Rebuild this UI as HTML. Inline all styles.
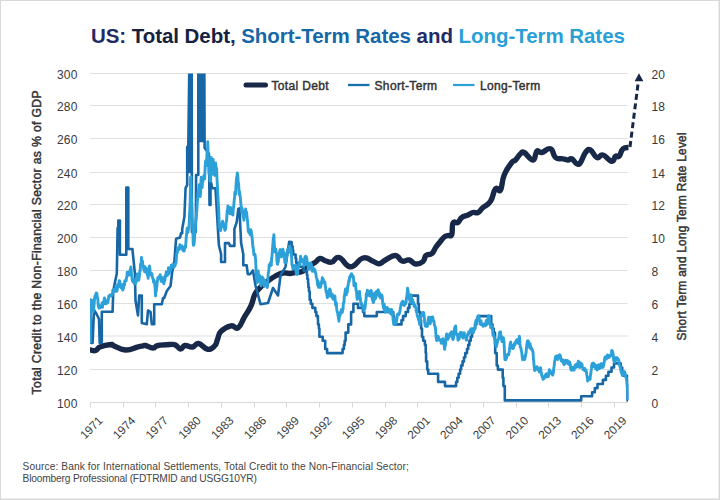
<!DOCTYPE html>
<html><head><meta charset="utf-8"><style>
html,body{margin:0;padding:0;background:#fff;}
body{width:720px;height:500px;overflow:hidden;position:relative;font-family:"Liberation Sans",sans-serif;}
.frame{position:absolute;left:0;top:0;width:718px;height:498px;border:1px solid #d9d9d9;box-shadow:inset -1px -1px 0 #ececec;}
svg{position:absolute;left:0;top:0;}
</style></head><body>
<div class="frame"></div>
<svg width="720" height="500" viewBox="0 0 720 500">
<defs><clipPath id="pc"><rect x="90" y="73.5" width="538.5" height="335"/></clipPath></defs>
<text x="357.9" y="43" text-anchor="middle" font-family="Liberation Sans" font-weight="bold" font-size="20.5" letter-spacing="-0.05"><tspan fill="#1f2b66">US: </tspan><tspan fill="#14223f">Total Debt</tspan><tspan fill="#1f2b66">, </tspan><tspan fill="#1567a8">Short-Term Rates</tspan><tspan fill="#1f2b66"> and </tspan><tspan fill="#2a9fd6">Long-Term Rates</tspan></text>
<g stroke="#dfdfdf" stroke-width="1" fill="none"><path d="M90 73.5 H627.5" /><path d="M90 105.5 H627.5" /><path d="M90 138.5 H627.5" /><path d="M90 172.5 H627.5" /><path d="M90 204.5 H627.5" /><path d="M90 237.5 H627.5" /><path d="M90 270.5 H627.5" /><path d="M90 303.5 H627.5" /><path d="M90 336.0 H627.5" /><path d="M90 369.5 H627.5" /></g>
<g stroke="#d8d8d8" stroke-width="1" fill="none"><path d="M90 402.5 H627.5" /><path d="M90.5 402.5 V407.5" /><path d="M123.5 402.5 V407.5" /><path d="M155.5 402.5 V407.5" /><path d="M188.5 402.5 V407.5" /><path d="M221.5 402.5 V407.5" /><path d="M254.5 402.5 V407.5" /><path d="M286.5 402.5 V407.5" /><path d="M319.5 402.5 V407.5" /><path d="M352.5 402.5 V407.5" /><path d="M385.5 402.5 V407.5" /><path d="M417.5 402.5 V407.5" /><path d="M450.5 402.5 V407.5" /><path d="M483.5 402.5 V407.5" /><path d="M516.5 402.5 V407.5" /><path d="M548.5 402.5 V407.5" /><path d="M581.5 402.5 V407.5" /><path d="M614.5 402.5 V407.5" /></g>
<g font-size="12" fill="#3a3a3a" text-anchor="end" letter-spacing="0.2"><text x="77.6" y="79.1">300</text><text x="77.6" y="111.1">280</text><text x="77.6" y="144.1">260</text><text x="77.6" y="178.1">240</text><text x="77.6" y="210.1">220</text><text x="77.6" y="243.1">200</text><text x="77.6" y="276.1">180</text><text x="77.6" y="309.1">160</text><text x="77.6" y="341.6">140</text><text x="77.6" y="375.1">120</text><text x="77.6" y="408.1">100</text></g>
<g font-size="12" fill="#3a3a3a" text-anchor="start" letter-spacing="0.2"><text x="651.5" y="79.1">20</text><text x="651.5" y="111.1">18</text><text x="651.5" y="144.1">16</text><text x="651.5" y="178.1">14</text><text x="651.5" y="210.1">12</text><text x="651.5" y="243.1">10</text><text x="651.5" y="276.1">8</text><text x="651.5" y="309.1">6</text><text x="651.5" y="341.6">4</text><text x="651.5" y="375.1">2</text><text x="651.5" y="408.1">0</text></g>
<g font-size="11.8" fill="#3a3a3a" text-anchor="end" letter-spacing="0"><text transform="translate(103.5 421.3) rotate(-45)">1971</text><text transform="translate(136.2 421.3) rotate(-45)">1974</text><text transform="translate(169.0 421.3) rotate(-45)">1977</text><text transform="translate(201.7 421.3) rotate(-45)">1980</text><text transform="translate(234.5 421.3) rotate(-45)">1983</text><text transform="translate(267.2 421.3) rotate(-45)">1986</text><text transform="translate(299.9 421.3) rotate(-45)">1989</text><text transform="translate(332.7 421.3) rotate(-45)">1992</text><text transform="translate(365.4 421.3) rotate(-45)">1995</text><text transform="translate(398.2 421.3) rotate(-45)">1998</text><text transform="translate(430.9 421.3) rotate(-45)">2001</text><text transform="translate(463.6 421.3) rotate(-45)">2004</text><text transform="translate(496.4 421.3) rotate(-45)">2007</text><text transform="translate(529.1 421.3) rotate(-45)">2010</text><text transform="translate(561.9 421.3) rotate(-45)">2013</text><text transform="translate(594.6 421.3) rotate(-45)">2016</text><text transform="translate(627.3 421.3) rotate(-45)">2019</text></g>
<text transform="translate(41 242.4) rotate(-90)" text-anchor="middle" font-size="12.2" fill="#333" stroke="#333" stroke-width="0.45" textLength="304" lengthAdjust="spacing">Total Credit to the Non-Financial Sector as % of GDP</text>
<text transform="translate(685.8 236.45) rotate(-90)" text-anchor="middle" font-size="11.9" fill="#333" stroke="#333" stroke-width="0.45" textLength="208" lengthAdjust="spacing">Short Term and Long Term Rate Level</text>
<g clip-path="url(#pc)" fill="none" stroke-linejoin="round">
<path d="M90.5 350.0 C91.7 350.1 93.2 351.3 95.5 350.5 C97.8 349.7 96.9 348.1 100.5 346.8 C104.1 345.4 108.1 344.8 111.0 344.5 C113.9 344.2 109.6 344.2 113.0 345.5 C116.4 346.8 119.7 349.7 125.5 350.0 C131.3 350.3 134.0 347.7 138.0 346.8 C142.0 345.8 140.8 346.3 142.5 346.0 C144.2 345.7 143.1 345.0 145.5 345.5 C147.9 346.0 150.1 348.0 153.0 348.0 C155.9 348.0 154.0 346.3 158.0 345.5 C162.0 344.7 165.9 344.6 170.0 344.5 C174.1 344.4 173.1 343.9 175.5 345.0 C177.9 346.1 178.3 348.9 180.5 349.0 C182.7 349.1 182.2 346.0 185.0 345.5 C187.8 345.0 189.3 347.5 192.5 347.0 C195.7 346.5 195.0 343.0 198.5 343.5 C202.0 344.0 203.8 348.8 207.6 349.3 C211.4 349.8 212.5 348.0 214.8 345.7 C217.1 343.4 216.0 342.8 217.5 339.4 C219.0 336.0 217.9 334.4 221.1 331.3 C224.2 328.2 227.0 326.7 231.0 325.9 C235.0 325.1 235.0 329.8 238.2 327.7 C241.3 325.6 241.5 321.9 244.5 316.8 C247.5 311.7 248.6 311.0 250.9 306.0 C253.2 301.0 252.8 299.0 254.5 295.2 C256.2 291.4 256.0 292.3 258.1 289.8 C260.2 287.3 261.2 286.5 263.5 284.4 C265.8 282.3 265.2 283.0 268.0 281.0 C270.8 279.0 272.0 277.9 275.5 276.0 C279.0 274.1 279.6 273.6 283.0 273.0 C286.4 272.4 287.2 273.6 290.0 273.5 C292.8 273.4 292.2 273.0 295.0 272.5 C297.8 272.0 298.7 273.0 302.0 271.5 C305.3 270.0 306.0 268.1 309.0 266.0 C312.0 263.9 312.4 264.2 315.0 262.5 C317.6 260.8 317.4 258.9 320.0 258.5 C322.6 258.1 323.2 260.2 326.0 261.0 C328.8 261.8 328.9 262.8 332.0 262.0 C335.1 261.2 334.9 256.4 339.2 257.5 C343.6 258.6 345.0 266.6 350.5 266.8 C356.0 266.9 357.8 259.3 363.0 258.0 C368.2 256.7 369.2 259.9 373.0 261.2 C376.8 262.6 376.3 264.0 379.2 263.8 C382.2 263.5 381.7 261.9 385.5 260.0 C389.3 258.1 391.6 255.3 395.5 255.5 C399.4 255.7 398.8 259.9 402.0 261.0 C405.2 262.1 406.1 259.3 409.2 260.0 C412.4 260.7 412.3 263.6 415.5 264.0 C418.7 264.4 420.6 263.5 423.0 261.5 C425.4 259.5 423.9 257.4 426.0 255.5 C428.1 253.6 429.7 255.5 432.0 253.5 C434.3 251.5 434.1 249.7 436.0 247.0 C437.9 244.3 438.1 244.3 440.0 242.0 C441.9 239.7 442.4 238.5 444.2 237.0 C446.1 235.5 446.2 236.1 448.0 235.5 C449.8 234.9 450.6 237.4 451.8 234.5 C452.9 231.6 451.5 225.8 453.0 223.0 C454.5 220.2 456.0 223.8 458.0 222.5 C460.0 221.2 459.4 219.2 461.8 217.5 C464.1 215.8 465.4 216.2 468.0 215.0 C470.6 213.8 470.7 213.1 473.0 212.5 C475.3 211.9 475.7 213.7 478.0 212.5 C480.3 211.3 480.1 210.1 483.0 207.5 C485.9 204.9 487.6 205.6 490.5 201.2 C493.4 196.9 493.2 191.4 495.5 188.8 C497.8 186.1 498.5 193.2 500.5 190.0 C502.5 186.8 501.6 181.4 504.2 175.0 C506.9 168.6 509.1 166.0 511.8 162.5 C514.4 159.0 513.5 162.0 515.5 160.0 C517.5 158.0 518.5 155.5 520.5 153.8 C522.5 152.0 521.3 151.0 524.2 152.5 C527.2 154.0 530.1 160.3 533.0 160.0 C535.9 159.7 534.7 153.0 536.8 151.2 C538.8 149.5 538.5 153.1 541.8 152.5 C545.0 151.9 547.3 147.6 550.5 148.8 C553.7 149.9 552.6 155.2 555.5 157.5 C558.4 159.8 560.1 158.2 563.0 158.8 C565.9 159.3 566.0 160.0 568.0 160.0 C570.0 160.0 569.7 157.9 571.8 158.8 C573.8 159.6 574.7 162.9 576.8 163.8 C578.8 164.6 578.5 165.1 580.5 162.5 C582.5 159.9 583.2 155.4 585.5 152.5 C587.8 149.6 587.9 148.8 590.5 150.0 C593.1 151.2 593.8 156.3 596.8 157.5 C599.7 158.7 599.5 154.1 603.0 155.0 C606.5 155.9 608.8 161.0 611.8 161.2 C614.7 161.5 613.8 157.4 615.5 156.2 C617.2 155.1 617.5 158.0 619.2 156.2 C621.0 154.5 620.5 150.8 623.0 148.8 C625.5 146.7 628.4 147.8 630.0 147.5" stroke="#172848" stroke-width="5.4" stroke-linecap="round"/>
<path d="M90.5 300.0 L91.3 343.0 L92.6 343.0 L94.0 310.0 L96.5 314.0 L99.0 319.0 L99.7 343.0 L101.8 343.0 L101.8 311.8 L112.6 311.8 L113.2 293.0 L114.2 286.0 L116.8 273.5 L117.6 228.0 L118.3 228.0 L118.3 220.6 L119.9 220.6 L119.9 254.8 L126.3 254.8 L126.3 187.5 L128.3 187.5 L128.3 249.0 L132.4 249.0 L134.9 273.5 L135.5 300.5 L138.0 315.5 L139.2 295.5 L141.8 295.5 L141.8 323.0 L146.8 324.2 L148.0 310.5 L150.5 311.8 L151.8 324.2 L154.2 324.2 L154.2 304.2 L161.8 304.2 L163.0 298.0 L164.2 298.0 L166.8 291.0 L170.5 286.0 L172.2 272.0 L174.4 260.9 L176.1 238.7 L180.0 237.6 L181.1 233.1 L182.2 233.3 L182.2 228.9 L184.4 216.7 L185.6 187.8 L187.2 185.0 L187.2 146.7 L187.2 185.0 L187.2 146.7 L188.3 146.7 L189.4 60.0 L189.4 172.0 L190.0 172.0 L190.0 60.0 L190.6 60.0 L190.6 172.0 L191.1 172.0 L191.1 60.0 L191.7 60.0 L191.7 172.0 L191.7 60.0 L191.9 232.0 L195.8 232.0 L196.1 175.0 L198.3 175.0 L198.3 141.0 L198.3 60.0 L198.9 60.0 L198.9 141.0 L199.6 141.0 L199.6 60.0 L200.2 60.0 L200.2 141.0 L200.8 141.0 L200.8 60.0 L201.3 60.0 L201.3 141.0 L201.9 141.0 L201.9 60.0 L202.6 60.0 L202.6 141.0 L203.2 141.0 L203.2 60.0 L203.8 60.0 L203.8 141.0 L204.3 141.0 L204.3 60.0 L204.3 60.0 L204.6 147.8 L209.0 153.9 L209.5 205.0 L210.5 205.0 L210.5 180.0 L212.2 188.3 L215.5 188.3 L218.9 245.3 L221.1 254.2 L221.1 262.0 L225.0 262.0 L225.0 243.1 L228.9 243.1 L230.0 245.9 L234.4 245.9 L234.4 228.9 L236.7 222.2 L238.3 208.9 L239.4 208.3 L240.6 232.0 L241.1 243.1 L243.3 254.2 L243.3 265.3 L246.7 265.3 L247.8 274.2 L250.0 274.2 L253.0 270.5 L255.5 285.5 L260.5 304.2 L268.0 303.0 L273.0 288.0 L278.0 295.5 L280.5 275.5 L285.5 266.8 L289.2 241.8 L291.6 242.1 L291.6 246.2 L292.6 246.2 L292.6 250.3 L293.2 250.3 L293.2 254.5 L295.6 254.5 L295.6 258.6 L296.2 258.6 L296.2 262.7 L297.5 262.7 L297.5 266.8 L303.7 266.8 L303.7 270.9 L306.9 270.9 L306.9 275.0 L307.4 275.0 L307.4 279.1 L308.1 279.1 L308.1 283.2 L308.4 283.2 L308.4 287.4 L309.0 287.4 L309.0 291.5 L309.7 291.5 L309.7 299.7 L310.8 299.7 L310.8 303.8 L312.4 303.8 L312.4 307.9 L315.3 307.9 L315.3 312.0 L316.4 312.0 L316.4 316.1 L317.9 316.1 L317.9 320.2 L318.0 320.2 L318.0 324.4 L318.9 324.4 L318.9 328.5 L319.4 328.5 L319.4 336.7 L322.7 336.7 L322.7 340.8 L325.2 340.8 L325.2 349.0 L327.1 349.0 L327.1 353.1 L342.6 353.1 L342.6 349.0 L343.9 349.0 L343.9 344.9 L344.7 344.9 L344.7 340.8 L345.6 340.8 L345.6 332.6 L348.3 332.6 L348.3 324.4 L351.1 324.4 L351.1 312.0 L353.4 312.0 L353.4 303.8 L358.0 303.8 L358.0 307.9 L363.0 307.9 L363.0 312.0 L364.3 312.0 L364.3 316.1 L376.8 316.1 L376.8 312.0 L393.3 312.0 L393.3 316.1 L393.8 316.1 L393.8 320.2 L394.8 320.2 L394.8 324.4 L401.5 324.4 L401.5 320.2 L403.1 320.2 L403.1 316.1 L405.7 316.1 L405.7 312.0 L408.0 312.0 L408.0 307.9 L409.4 307.9 L409.4 303.8 L411.1 303.8 L411.1 295.6 L418.0 295.6 L418.0 303.8 L418.8 303.8 L418.8 312.0 L420.3 312.0 L420.3 320.2 L421.1 320.2 L421.1 328.5 L422.0 328.5 L422.0 336.7 L423.2 336.7 L423.2 340.8 L424.9 340.8 L424.9 344.9 L425.7 344.9 L425.7 353.1 L426.1 353.1 L426.1 361.4 L427.2 361.4 L427.2 369.6 L428.2 369.6 L428.2 373.7 L438.1 373.7 L438.1 381.9 L445.0 381.9 L445.0 386.1 L456.1 386.1 L456.1 381.9 L457.3 381.9 L457.3 377.8 L458.6 377.8 L458.6 373.7 L460.1 373.7 L460.1 369.6 L461.1 369.6 L461.1 365.5 L462.6 365.5 L462.6 361.4 L464.0 361.4 L464.0 357.3 L465.3 357.3 L465.3 353.1 L467.0 353.1 L467.0 349.0 L468.2 349.0 L468.2 344.9 L469.4 344.9 L469.4 340.8 L470.7 340.8 L470.7 336.7 L472.0 336.7 L472.0 332.6 L473.4 332.6 L473.4 328.5 L475.1 328.5 L475.1 324.4 L476.4 324.4 L476.4 320.2 L477.9 320.2 L477.9 316.1 L491.2 316.1 L491.2 324.4 L492.5 324.4 L492.5 328.5 L493.7 328.5 L493.7 332.6 L495.0 332.6 L495.0 344.9 L495.2 344.9 L495.2 353.1 L496.7 353.1 L496.7 365.5 L497.9 365.5 L497.9 369.6 L502.7 369.6 L502.7 377.8 L503.4 377.8 L503.4 386.1 L504.8 386.1 L504.8 400.4 L581.2 400.4 L581.2 396.3 L592.1 396.3 L592.1 392.2 L594.8 392.2 L594.8 388.1 L597.5 388.1 L597.5 384.0 L602.9 384.0 L602.9 379.9 L605.9 379.9 L605.9 375.8 L608.4 375.8 L608.4 371.7 L611.5 371.7 L611.5 367.5 L614.0 367.5 L614.0 363.4 L620.7 363.4 L620.7 367.5 L622.2 367.5 L622.2 371.7 L623.5 371.7 L623.5 375.8 L627.2 375.8 L627.2 384.0 L627.5 384.0 L627.5 400.4 L628.0 400.4" stroke="#1766a5" stroke-width="2.6"/>
<path d="M90.3 343.0 L90.5 299.7 L90.8 300.8 L91.2 302.3 L91.5 300.8 L91.8 300.3 L92.2 302.4 L92.5 306.7 L92.8 308.1 L93.2 311.7 L93.5 310.6 L93.8 307.4 L94.2 303.6 L94.5 298.6 L94.8 296.6 L95.2 295.4 L95.5 297.3 L95.8 295.7 L96.2 293.0 L96.5 294.1 L96.8 293.4 L97.2 296.1 L97.5 298.7 L97.8 298.4 L98.2 305.1 L98.5 306.7 L98.8 306.1 L99.2 308.1 L99.5 307.3 L99.8 306.3 L100.2 307.9 L100.5 305.7 L100.8 306.3 L101.2 306.6 L101.5 306.0 L101.8 305.8 L102.2 302.6 L102.5 307.4 L102.8 304.3 L103.2 304.1 L103.5 303.1 L103.8 302.1 L104.2 299.1 L104.5 298.0 L104.8 299.8 L105.2 299.6 L105.5 303.9 L105.8 303.8 L106.2 301.4 L106.5 302.6 L106.8 303.3 L107.2 301.9 L107.5 300.9 L107.8 302.6 L108.2 300.0 L108.5 298.6 L108.8 295.8 L109.2 295.7 L109.5 296.4 L109.8 295.5 L110.2 294.8 L110.5 295.7 L110.8 295.3 L111.2 296.0 L111.5 295.3 L111.8 295.7 L112.2 294.8 L112.5 293.0 L112.8 290.2 L113.2 291.1 L113.5 289.4 L113.8 290.1 L114.2 290.4 L114.5 289.4 L114.8 289.3 L115.2 290.1 L115.5 291.4 L115.8 286.3 L116.2 287.1 L116.5 287.0 L116.8 291.4 L117.2 290.1 L117.5 287.2 L117.8 284.1 L118.2 287.2 L118.5 284.9 L118.8 284.9 L119.2 280.7 L119.5 281.9 L119.8 281.1 L120.2 284.5 L120.5 285.5 L120.8 286.4 L121.2 288.0 L121.5 285.8 L121.8 285.0 L122.2 284.8 L122.5 285.4 L122.8 290.1 L123.2 287.6 L123.5 288.5 L123.8 283.9 L124.2 284.1 L124.5 285.1 L124.8 280.8 L125.2 281.2 L125.5 280.4 L125.8 280.3 L126.2 280.7 L126.5 277.7 L126.9 276.7 L127.2 272.3 L127.5 272.4 L127.9 273.3 L128.2 274.9 L128.5 272.4 L128.9 275.0 L129.2 275.0 L129.5 274.4 L129.9 271.3 L130.2 269.6 L130.5 269.9 L130.9 266.9 L131.2 269.5 L131.5 275.3 L131.9 276.4 L132.2 280.0 L132.5 280.7 L132.9 281.9 L133.2 280.1 L133.5 279.5 L133.9 282.6 L134.2 280.4 L134.5 283.9 L134.9 280.8 L135.2 281.1 L135.5 283.4 L135.9 282.9 L136.2 279.0 L136.5 278.0 L136.9 276.3 L137.2 274.0 L137.5 275.9 L137.9 279.1 L138.2 276.1 L138.5 280.4 L138.9 279.5 L139.2 277.1 L139.5 274.7 L139.9 270.6 L140.2 271.3 L140.5 264.3 L140.9 264.8 L141.2 262.4 L141.5 257.5 L141.9 261.2 L142.2 261.0 L142.5 261.4 L142.9 266.1 L143.2 265.6 L143.5 267.7 L143.9 270.1 L144.2 268.7 L144.5 271.5 L144.9 266.6 L145.2 271.8 L145.5 269.9 L145.9 267.8 L146.2 268.4 L146.5 271.4 L146.9 273.4 L147.2 269.5 L147.5 275.4 L147.9 275.3 L148.2 278.3 L148.5 271.7 L148.9 274.4 L149.2 267.7 L149.5 266.0 L149.9 268.9 L150.2 274.0 L150.5 272.9 L150.9 274.9 L151.2 273.8 L151.5 273.3 L151.9 273.7 L152.2 276.3 L152.5 277.5 L152.9 278.5 L153.2 279.4 L153.5 282.1 L153.9 279.9 L154.2 281.3 L154.5 282.2 L154.9 286.1 L155.2 289.0 L155.5 296.0 L156.0 287.4 L156.2 291.6 L156.5 288.3 L156.9 286.2 L157.2 281.8 L157.5 281.1 L157.9 277.7 L158.2 278.1 L158.5 277.2 L158.9 278.2 L159.2 278.2 L159.5 276.5 L159.9 277.2 L160.2 274.7 L160.5 278.4 L160.9 279.3 L161.2 281.4 L161.5 279.8 L161.9 279.6 L162.2 277.8 L162.5 278.0 L162.9 277.8 L163.2 281.4 L163.5 282.7 L163.9 283.7 L164.2 280.9 L164.5 279.4 L164.9 280.6 L165.2 275.4 L165.5 275.2 L165.9 276.3 L166.2 272.0 L166.5 275.4 L166.9 274.7 L167.2 275.2 L167.5 275.3 L167.9 272.7 L168.2 270.6 L168.5 267.6 L168.9 271.5 L169.2 273.5 L169.5 271.5 L169.9 271.5 L170.2 270.8 L170.5 269.8 L170.9 268.8 L171.2 265.3 L171.5 265.8 L171.9 267.5 L172.2 264.8 L172.5 265.6 L172.9 265.8 L173.2 265.8 L173.5 265.0 L173.9 267.1 L174.2 266.1 L174.5 264.2 L174.9 266.1 L175.2 264.5 L175.5 264.0 L175.9 263.0 L176.2 261.2 L176.5 256.0 L176.9 252.8 L177.2 253.0 L177.5 251.1 L177.9 247.6 L178.2 248.1 L178.5 247.6 L178.9 248.6 L179.2 249.5 L179.5 248.0 L179.9 244.8 L180.2 248.0 L180.5 246.4 L180.9 247.9 L181.2 246.5 L181.5 246.7 L181.9 245.8 L182.2 248.3 L182.5 249.1 L182.9 250.3 L183.2 250.7 L183.5 249.7 L183.9 250.3 L184.2 251.0 L184.5 247.6 L184.9 246.4 L185.2 246.8 L185.5 247.4 L185.9 242.6 L186.2 237.8 L186.5 236.1 L186.9 230.4 L187.2 228.3 L187.5 229.3 L187.9 232.4 L188.2 230.6 L188.5 228.7 L188.9 228.3 L189.2 223.6 L189.5 214.8 L189.9 207.8 L190.2 201.0 L190.6 177.1 L190.9 176.9 L191.2 194.5 L191.5 199.8 L191.9 208.4 L192.2 216.2 L192.5 225.3 L192.9 231.7 L193.2 243.2 L193.5 245.3 L193.9 244.7 L194.2 243.0 L194.5 237.8 L194.9 232.2 L195.2 230.9 L195.5 224.7 L195.9 219.3 L196.2 219.3 L196.5 213.1 L196.9 210.5 L197.2 203.4 L197.5 200.0 L197.9 193.9 L198.2 191.6 L198.5 194.1 L198.9 187.4 L199.2 184.7 L199.6 193.4 L199.9 191.0 L200.2 196.6 L200.6 193.1 L200.9 183.2 L201.2 177.3 L201.6 186.7 L201.9 182.7 L202.2 187.5 L202.6 179.7 L202.9 181.9 L203.2 179.1 L203.6 177.5 L203.9 175.4 L204.2 177.0 L204.6 178.9 L204.9 173.1 L205.2 166.1 L205.6 161.0 L205.9 163.2 L206.2 160.4 L206.6 165.6 L206.9 154.5 L207.2 149.7 L207.6 150.3 L207.7 141.8 L208.2 156.8 L208.6 162.3 L208.9 171.8 L209.2 174.2 L209.6 174.2 L209.9 181.0 L210.2 175.2 L210.6 181.4 L210.9 166.2 L211.2 157.5 L211.6 163.5 L211.9 160.9 L212.2 162.7 L212.6 174.0 L212.9 167.6 L213.2 159.4 L213.6 166.5 L213.9 171.4 L214.2 172.3 L214.6 175.4 L214.9 171.9 L215.2 168.8 L215.6 162.9 L215.9 165.6 L216.2 172.0 L216.6 168.3 L216.9 176.7 L217.2 182.6 L217.6 189.3 L217.9 196.2 L218.2 202.7 L218.6 207.9 L218.9 215.2 L219.2 227.4 L219.6 227.1 L219.9 229.5 L220.2 228.5 L220.6 230.5 L220.9 226.5 L221.2 225.2 L221.6 225.3 L221.9 224.8 L222.2 222.1 L222.6 221.2 L222.9 222.6 L223.2 224.3 L223.6 226.7 L223.9 227.0 L224.2 228.3 L224.6 228.4 L224.9 230.3 L225.2 227.3 L225.6 229.2 L225.9 224.8 L226.2 221.9 L226.6 220.8 L226.9 215.4 L227.2 210.7 L227.6 211.0 L227.9 205.9 L228.2 208.2 L228.6 210.0 L228.9 209.9 L229.2 210.6 L229.6 212.6 L229.9 213.7 L230.2 211.9 L230.6 207.5 L230.9 211.0 L231.2 211.7 L231.6 214.1 L231.9 213.3 L232.2 210.9 L232.6 214.5 L232.9 215.0 L233.2 209.6 L233.6 207.3 L233.9 204.0 L234.2 200.1 L234.6 196.9 L234.9 192.2 L235.2 192.6 L235.6 194.3 L235.9 187.2 L236.2 182.4 L236.6 177.3 L236.9 177.7 L237.3 173.0 L237.6 174.7 L237.9 177.0 L238.2 182.2 L238.6 183.4 L238.9 188.7 L239.2 194.4 L239.6 191.8 L239.9 195.7 L240.2 196.3 L240.6 200.6 L240.9 204.1 L241.2 206.8 L241.6 207.4 L241.9 212.6 L242.2 208.6 L242.6 211.5 L242.9 214.8 L243.2 217.4 L243.6 215.4 L243.9 220.2 L244.2 213.8 L244.6 214.2 L244.9 211.7 L245.2 214.8 L245.6 209.0 L245.9 213.6 L246.2 212.0 L246.6 212.1 L246.9 215.5 L247.2 218.6 L247.6 221.5 L247.9 225.7 L248.2 230.6 L248.6 232.0 L248.9 232.7 L249.2 229.9 L249.6 233.0 L249.9 231.2 L250.2 234.9 L250.6 229.6 L250.9 230.4 L251.2 230.8 L251.6 234.0 L251.9 235.6 L252.2 238.5 L252.6 243.0 L252.9 247.2 L253.2 247.4 L253.6 251.6 L253.9 254.9 L254.2 253.8 L254.6 254.6 L254.9 254.3 L255.2 255.8 L255.6 259.8 L255.9 265.9 L256.2 273.1 L256.6 276.6 L256.9 280.7 L257.2 282.6 L257.6 282.1 L257.9 279.3 L258.2 270.9 L258.6 276.7 L258.9 275.6 L259.2 276.4 L259.6 275.4 L259.9 279.6 L260.2 281.1 L260.6 281.9 L260.9 285.7 L261.2 283.7 L261.6 284.0 L261.9 280.9 L262.2 277.0 L262.6 282.6 L262.9 278.0 L263.2 278.6 L263.6 282.4 L263.9 282.5 L264.2 286.3 L264.6 280.5 L264.9 284.9 L265.2 285.0 L265.6 282.9 L265.9 282.5 L266.2 283.6 L266.6 283.4 L266.9 283.3 L267.2 287.6 L267.6 285.4 L267.9 279.5 L268.2 273.5 L268.6 271.5 L268.9 270.3 L269.2 264.7 L269.6 266.3 L269.9 265.3 L270.2 264.1 L270.6 262.6 L270.9 265.0 L271.3 265.3 L271.6 257.9 L271.9 257.4 L272.3 251.7 L272.6 248.4 L272.9 244.0 L273.3 238.2 L273.6 236.7 L273.9 234.7 L274.3 244.3 L274.6 249.1 L274.9 251.6 L275.3 252.2 L275.6 249.0 L275.9 250.1 L276.3 252.5 L276.6 253.2 L276.9 260.5 L277.3 263.9 L277.6 264.2 L277.9 260.6 L278.3 262.2 L278.6 256.2 L278.9 256.3 L279.3 255.1 L279.6 251.7 L279.9 250.2 L280.3 249.6 L280.6 255.7 L280.9 255.9 L281.3 257.0 L281.6 256.4 L281.9 252.8 L282.3 252.2 L282.6 250.8 L282.9 249.2 L283.3 254.6 L283.6 254.7 L283.9 254.8 L284.3 252.7 L284.6 259.3 L284.9 262.5 L285.3 261.1 L285.6 262.9 L285.9 260.8 L286.3 261.2 L286.6 257.0 L286.9 253.6 L287.3 254.2 L287.6 249.5 L287.9 250.8 L288.3 250.5 L288.6 252.0 L288.9 252.0 L289.3 246.5 L289.6 248.8 L289.9 252.1 L290.3 247.5 L290.6 249.0 L290.9 249.2 L291.3 252.9 L291.6 257.5 L291.9 263.7 L292.3 266.1 L292.6 266.5 L292.9 269.1 L293.3 267.7 L293.6 267.1 L293.9 265.8 L294.3 267.4 L294.6 266.2 L294.9 266.7 L295.3 265.3 L295.6 268.9 L295.9 270.6 L296.3 273.9 L296.6 274.2 L296.9 274.1 L297.3 272.6 L297.6 274.3 L297.9 267.5 L298.3 268.3 L298.6 264.7 L298.9 264.4 L299.3 262.0 L299.6 263.1 L299.9 264.8 L300.3 259.7 L300.6 256.1 L300.9 259.0 L301.3 258.7 L301.6 258.8 L301.9 259.2 L302.3 260.2 L302.6 260.5 L302.9 262.1 L303.3 262.4 L303.6 262.5 L303.9 265.9 L304.3 265.0 L304.6 261.4 L304.9 257.2 L305.3 260.9 L305.6 256.3 L305.9 259.3 L306.3 256.7 L306.6 258.6 L306.9 258.9 L307.3 264.9 L307.6 263.9 L307.9 265.4 L308.3 269.4 L308.6 269.5 L308.9 267.8 L309.3 263.1 L309.6 265.0 L309.9 265.4 L310.3 268.0 L310.6 264.0 L310.9 263.4 L311.3 264.4 L311.6 266.7 L311.9 270.3 L312.3 271.2 L312.6 267.7 L312.9 269.7 L313.3 268.6 L313.6 269.8 L313.9 268.6 L314.3 271.4 L314.6 270.2 L314.9 269.6 L315.3 272.5 L315.6 273.0 L315.9 273.8 L316.3 277.0 L316.6 278.1 L316.9 279.0 L317.3 281.8 L317.6 285.1 L317.9 280.8 L318.3 283.2 L318.6 287.4 L318.9 286.6 L319.3 285.6 L319.6 286.1 L319.9 283.8 L320.3 287.2 L320.6 287.0 L320.9 284.9 L321.3 283.8 L321.6 281.3 L321.9 282.1 L322.3 277.6 L322.6 279.9 L322.9 279.6 L323.3 279.4 L323.6 281.4 L323.9 282.6 L324.3 281.7 L324.6 282.8 L324.9 282.0 L325.3 286.8 L325.6 286.9 L325.9 290.5 L326.3 292.6 L326.6 291.2 L326.9 294.9 L327.3 297.5 L327.6 296.9 L327.9 296.8 L328.3 295.6 L328.6 293.2 L328.9 291.1 L329.3 290.5 L329.6 288.9 L329.9 289.2 L330.3 290.2 L330.6 293.5 L330.9 296.4 L331.3 295.3 L331.6 293.6 L331.9 295.7 L332.3 294.1 L332.6 298.2 L332.9 296.8 L333.3 299.2 L333.6 298.5 L333.9 297.6 L334.3 299.5 L334.6 299.0 L334.9 295.9 L335.3 301.8 L335.6 304.8 L335.9 305.3 L336.3 302.7 L336.6 307.7 L336.9 309.9 L337.3 312.2 L337.6 312.3 L337.9 314.7 L338.3 316.9 L338.6 318.6 L338.9 321.2 L339.3 317.4 L339.6 316.2 L339.9 316.3 L340.3 312.7 L340.6 312.0 L340.9 313.3 L341.3 309.6 L341.6 312.9 L341.9 310.1 L342.3 312.3 L342.6 310.0 L343.0 309.4 L343.3 304.3 L343.6 302.4 L344.0 302.1 L344.3 296.5 L344.6 294.9 L345.0 292.9 L345.3 290.4 L345.6 288.9 L346.0 292.7 L346.3 294.9 L346.6 292.2 L347.0 290.0 L347.3 292.2 L347.6 286.7 L348.0 286.3 L348.3 284.0 L348.6 282.3 L349.0 279.9 L349.3 281.1 L349.6 276.9 L350.0 277.3 L350.3 276.7 L350.6 275.1 L351.0 274.8 L351.3 273.9 L351.6 273.7 L352.0 276.5 L352.3 276.1 L352.6 275.8 L353.0 275.9 L353.3 276.8 L353.6 279.2 L354.0 285.7 L354.3 282.8 L354.6 283.8 L355.0 285.5 L355.3 284.4 L355.6 283.4 L356.0 290.5 L356.3 290.3 L356.6 293.3 L357.0 297.5 L357.3 299.4 L357.6 298.6 L358.0 293.9 L358.3 292.2 L358.6 292.7 L359.0 293.2 L359.3 292.6 L359.6 291.5 L360.0 297.0 L360.3 297.8 L360.6 301.4 L361.0 304.0 L361.3 302.7 L361.6 305.7 L362.0 304.0 L362.3 305.6 L362.6 306.1 L363.0 305.8 L363.3 308.3 L363.6 309.1 L364.0 311.0 L364.3 307.5 L364.6 308.0 L365.0 308.3 L365.3 305.2 L365.6 301.3 L366.0 300.4 L366.3 293.9 L366.6 296.2 L367.0 292.9 L367.3 290.3 L367.6 290.6 L368.0 291.0 L368.3 291.1 L368.6 295.3 L369.0 294.0 L369.3 291.8 L369.6 293.9 L370.0 296.1 L370.3 291.5 L370.6 291.8 L371.0 290.4 L371.3 290.6 L371.6 294.5 L372.0 294.4 L372.3 299.6 L372.6 298.4 L373.0 300.9 L373.3 302.5 L373.6 301.5 L374.0 298.7 L374.3 299.0 L374.6 293.0 L375.0 294.7 L375.3 298.7 L375.6 297.9 L376.0 297.3 L376.3 294.6 L376.6 291.2 L377.0 291.5 L377.3 291.8 L377.6 291.5 L378.0 291.2 L378.3 289.8 L378.6 292.4 L379.0 294.9 L379.3 296.1 L379.6 292.9 L380.0 295.5 L380.3 297.6 L380.6 297.9 L381.0 295.1 L381.3 296.1 L381.6 294.9 L382.0 295.5 L382.3 297.1 L382.6 302.2 L383.0 305.2 L383.3 306.2 L383.6 308.3 L384.0 304.0 L384.3 305.0 L384.6 310.6 L385.0 311.1 L385.3 312.2 L385.6 310.2 L386.0 309.5 L386.3 308.9 L386.6 308.6 L387.0 307.4 L387.3 308.1 L387.6 311.3 L388.0 308.4 L388.3 310.9 L388.6 310.0 L389.0 312.0 L389.3 309.5 L389.6 310.4 L390.0 312.4 L390.3 312.5 L390.6 313.3 L391.0 314.1 L391.3 310.5 L391.6 309.4 L392.0 312.1 L392.3 312.4 L392.6 313.5 L393.0 318.6 L393.3 321.0 L393.6 323.8 L394.0 324.6 L394.3 322.5 L394.6 322.8 L395.0 319.1 L395.3 321.3 L395.6 322.6 L396.0 323.3 L396.3 321.0 L396.6 321.1 L397.0 317.1 L397.3 314.4 L397.6 315.3 L398.0 315.0 L398.3 313.6 L398.6 314.9 L399.0 314.4 L399.3 313.7 L399.6 312.2 L400.0 311.2 L400.3 308.3 L400.6 306.8 L401.0 304.1 L401.3 304.1 L401.6 302.7 L402.0 304.2 L402.3 304.5 L402.6 301.3 L403.0 303.2 L403.3 302.3 L403.6 304.9 L404.0 303.4 L404.3 305.6 L404.6 303.8 L405.0 302.0 L405.3 304.0 L405.6 303.8 L406.0 302.5 L406.3 300.3 L406.6 297.5 L407.0 294.7 L407.3 291.9 L407.6 288.2 L408.0 291.3 L408.3 293.3 L408.6 294.0 L409.0 297.1 L409.3 296.6 L409.6 300.2 L410.0 300.0 L410.3 302.5 L410.6 297.5 L411.0 294.6 L411.3 296.5 L411.6 299.0 L412.0 300.3 L412.3 300.3 L412.6 299.5 L413.0 301.2 L413.3 303.8 L413.6 302.7 L414.0 306.1 L414.3 306.5 L414.6 306.1 L415.0 304.8 L415.3 307.1 L415.7 307.3 L416.0 308.2 L416.3 311.8 L416.7 309.1 L417.0 313.4 L417.3 316.1 L417.7 316.4 L418.0 317.6 L418.3 318.3 L418.7 320.3 L419.0 318.7 L419.3 322.0 L419.7 324.6 L420.0 324.2 L420.3 321.1 L420.7 317.7 L421.0 315.1 L421.3 316.3 L421.7 314.9 L422.0 314.4 L422.3 314.3 L422.7 313.1 L423.0 312.6 L423.3 313.6 L423.7 312.6 L424.0 314.9 L424.3 317.4 L424.7 322.0 L425.0 323.9 L425.3 326.1 L425.7 326.2 L426.0 326.2 L426.3 326.1 L426.7 326.4 L427.0 325.0 L427.3 326.4 L427.7 324.0 L428.0 321.2 L428.3 319.0 L428.7 317.2 L429.0 318.4 L429.3 320.1 L429.7 318.4 L430.0 321.9 L430.3 323.7 L430.7 320.3 L431.0 317.1 L431.3 317.6 L431.7 317.2 L432.0 317.5 L432.3 319.0 L432.7 316.9 L433.0 318.8 L433.3 320.7 L433.7 321.9 L434.0 321.1 L434.3 324.6 L434.7 325.5 L435.0 326.4 L435.3 327.3 L435.7 330.7 L436.0 336.9 L436.3 338.3 L436.7 340.6 L437.0 339.6 L437.3 339.1 L437.7 337.0 L438.0 336.2 L438.3 336.5 L438.7 338.4 L439.0 339.7 L439.3 340.1 L439.7 339.4 L440.0 339.4 L440.3 340.2 L440.7 340.4 L441.0 341.7 L441.3 343.3 L441.7 343.1 L442.0 342.0 L442.3 339.8 L442.7 340.2 L443.0 338.6 L443.3 340.6 L443.7 341.1 L444.0 344.6 L444.3 346.3 L444.7 349.3 L445.0 345.6 L445.3 345.8 L445.7 342.2 L446.0 339.8 L446.3 335.7 L446.7 333.9 L447.0 337.4 L447.3 335.3 L447.7 336.3 L448.0 339.2 L448.3 336.2 L448.7 336.5 L449.0 335.1 L449.3 337.0 L449.7 335.1 L450.0 333.4 L450.3 333.9 L450.7 333.8 L451.0 334.5 L451.3 332.6 L451.7 331.7 L452.0 334.5 L452.3 335.1 L452.7 339.2 L453.0 339.5 L453.3 338.6 L453.7 336.0 L454.0 332.9 L454.3 330.3 L454.7 327.8 L455.0 326.8 L455.3 327.5 L455.7 326.0 L456.0 332.9 L456.3 334.3 L456.7 333.5 L457.0 334.8 L457.3 334.2 L457.7 337.6 L458.0 340.2 L458.3 339.1 L458.7 339.4 L459.0 339.3 L459.3 337.2 L459.7 333.7 L460.0 335.5 L460.3 335.4 L460.7 332.1 L461.0 336.2 L461.3 335.9 L461.7 335.7 L462.0 334.2 L462.3 333.0 L462.7 335.0 L463.0 338.1 L463.3 337.3 L463.7 333.7 L464.0 333.7 L464.3 332.8 L464.7 336.7 L465.0 336.5 L465.3 337.6 L465.7 337.6 L466.0 338.6 L466.3 340.1 L466.7 340.1 L467.0 336.0 L467.3 335.8 L467.7 334.2 L468.0 333.9 L468.3 334.8 L468.7 331.9 L469.0 332.1 L469.3 333.0 L469.7 332.7 L470.0 331.8 L470.3 330.0 L470.7 331.0 L471.0 328.6 L471.3 331.2 L471.7 331.6 L472.0 332.6 L472.3 331.2 L472.7 330.8 L473.0 332.3 L473.3 330.6 L473.7 330.8 L474.0 328.2 L474.3 328.9 L474.7 329.6 L475.0 327.5 L475.3 323.0 L475.7 322.2 L476.0 320.2 L476.3 320.2 L476.7 320.0 L477.0 319.8 L477.3 317.7 L477.7 318.1 L478.0 318.0 L478.3 316.8 L478.7 315.8 L479.0 316.0 L479.3 319.5 L479.7 321.1 L480.0 323.9 L480.3 324.1 L480.7 324.5 L481.0 320.8 L481.3 324.4 L481.7 323.7 L482.0 324.0 L482.3 324.7 L482.7 324.7 L483.0 326.3 L483.3 325.0 L483.7 324.0 L484.0 324.0 L484.3 324.8 L484.7 325.2 L485.0 324.6 L485.3 325.8 L485.7 325.0 L486.0 322.2 L486.3 320.4 L486.7 322.4 L487.0 323.4 L487.4 324.2 L487.7 321.4 L488.0 319.0 L488.4 315.7 L488.7 317.4 L489.0 318.5 L489.4 316.3 L489.7 320.2 L490.0 322.5 L490.4 324.5 L490.7 327.5 L491.0 326.1 L491.4 326.1 L491.7 327.2 L492.0 325.8 L492.4 328.6 L492.7 331.1 L493.0 335.4 L493.4 333.9 L493.7 336.2 L494.0 336.2 L494.4 337.1 L494.7 339.1 L495.0 340.5 L495.4 344.0 L495.7 341.3 L496.0 345.0 L496.4 346.8 L496.7 344.9 L497.0 344.3 L497.4 342.4 L497.7 339.7 L498.0 340.2 L498.4 338.9 L498.7 338.4 L499.0 337.1 L499.4 333.8 L499.7 332.2 L500.0 332.4 L500.4 331.8 L500.7 334.2 L501.0 335.7 L501.4 336.2 L501.7 340.6 L502.0 341.6 L502.4 340.3 L502.7 337.9 L503.0 338.0 L503.4 337.8 L503.7 341.0 L504.0 341.4 L504.4 350.2 L504.7 356.4 L505.0 359.6 L505.4 359.1 L505.7 359.8 L506.0 358.6 L506.4 358.6 L506.7 356.7 L507.0 354.7 L507.4 355.5 L507.7 354.4 L508.0 355.0 L508.4 354.9 L508.7 354.7 L509.0 352.5 L509.4 350.7 L509.7 348.0 L510.0 345.2 L510.4 342.7 L510.7 342.0 L511.0 345.3 L511.4 345.2 L511.7 347.8 L512.0 345.7 L512.4 345.5 L512.7 348.5 L513.0 348.4 L513.4 348.2 L513.7 346.6 L514.0 346.0 L514.4 343.4 L514.7 343.7 L515.0 344.8 L515.4 342.4 L515.7 341.4 L516.0 341.7 L516.4 340.5 L516.7 340.4 L517.0 342.2 L517.4 339.5 L517.7 340.7 L518.0 342.0 L518.4 343.5 L518.7 341.4 L519.0 340.4 L519.4 336.2 L519.7 339.8 L520.0 343.9 L520.4 347.5 L520.7 347.5 L521.0 348.2 L521.4 350.6 L521.7 351.8 L522.0 354.5 L522.4 358.5 L522.7 359.8 L523.0 359.1 L523.4 356.7 L523.7 358.2 L524.0 357.9 L524.4 358.8 L524.7 359.5 L525.0 358.0 L525.4 356.0 L525.7 354.3 L526.0 353.3 L526.4 349.1 L526.7 345.7 L527.0 343.6 L527.4 340.9 L527.7 341.8 L528.0 344.4 L528.4 340.9 L528.7 344.3 L529.0 344.0 L529.4 345.7 L529.7 347.7 L530.0 343.6 L530.4 346.1 L530.7 346.2 L531.0 348.9 L531.4 349.4 L531.7 348.3 L532.0 349.2 L532.4 349.9 L532.7 351.5 L533.0 352.0 L533.4 357.9 L533.7 360.9 L534.0 364.4 L534.4 368.9 L534.7 370.6 L535.0 368.4 L535.4 369.6 L535.7 368.4 L536.0 368.9 L536.4 368.9 L536.7 367.9 L537.0 366.6 L537.4 368.9 L537.7 368.0 L538.0 369.9 L538.4 370.4 L538.7 369.4 L539.0 369.5 L539.4 372.0 L539.7 370.4 L540.0 370.0 L540.4 367.8 L540.7 368.3 L541.0 372.6 L541.4 372.6 L541.7 375.7 L542.0 375.8 L542.4 377.5 L542.7 377.5 L543.0 379.3 L543.4 377.2 L543.7 376.8 L544.0 378.7 L544.4 377.9 L544.7 377.5 L545.0 375.5 L545.4 374.8 L545.7 376.9 L546.0 375.9 L546.4 375.9 L546.7 373.8 L547.0 375.2 L547.4 376.9 L547.7 376.2 L548.0 375.5 L548.4 376.5 L548.7 374.0 L549.0 371.8 L549.4 369.6 L549.7 373.1 L550.0 371.6 L550.4 373.2 L550.7 372.0 L551.0 371.8 L551.4 371.8 L551.7 372.2 L552.0 374.4 L552.4 373.6 L552.7 375.1 L553.0 373.6 L553.4 372.7 L553.7 368.8 L554.0 366.9 L554.4 363.6 L554.7 360.7 L555.0 359.9 L555.4 357.8 L555.7 356.4 L556.0 358.3 L556.4 358.2 L556.7 356.0 L557.0 355.7 L557.4 357.3 L557.7 359.5 L558.0 358.7 L558.4 357.3 L558.7 355.7 L559.0 356.9 L559.4 354.9 L559.7 354.7 L560.1 355.6 L560.4 355.9 L560.7 357.8 L561.1 360.2 L561.4 361.0 L561.7 360.8 L562.1 361.5 L562.4 360.5 L562.7 361.2 L563.1 359.8 L563.4 363.3 L563.7 363.2 L564.1 364.6 L564.4 364.5 L564.7 362.3 L565.1 362.4 L565.4 361.5 L565.7 360.3 L566.1 362.1 L566.4 361.9 L566.7 361.4 L567.1 363.1 L567.4 360.5 L567.7 361.4 L568.1 361.2 L568.4 363.9 L568.7 364.2 L569.1 363.0 L569.4 362.2 L569.7 362.0 L570.1 364.3 L570.4 364.7 L570.7 368.3 L571.1 370.1 L571.4 369.9 L571.7 369.3 L572.1 368.9 L572.4 370.0 L572.7 367.5 L573.1 368.2 L573.4 367.4 L573.7 369.2 L574.1 370.1 L574.4 367.0 L574.7 368.1 L575.1 365.1 L575.4 366.5 L575.7 367.5 L576.1 364.4 L576.4 366.0 L576.7 366.9 L577.1 366.7 L577.4 365.8 L577.7 363.2 L578.1 362.4 L578.4 361.2 L578.7 362.5 L579.1 364.4 L579.4 365.1 L579.7 367.5 L580.1 364.9 L580.4 362.7 L580.7 364.6 L581.1 365.5 L581.4 366.3 L581.7 363.9 L582.1 365.0 L582.4 366.8 L582.7 368.3 L583.1 369.4 L583.4 368.2 L583.7 369.4 L584.1 369.5 L584.4 370.4 L584.7 368.5 L585.1 370.3 L585.4 369.7 L585.7 370.2 L586.1 370.4 L586.4 372.6 L586.7 374.3 L587.1 376.9 L587.4 378.3 L587.7 381.1 L588.1 378.4 L588.4 377.6 L588.7 378.8 L589.1 379.1 L589.4 378.9 L589.7 377.8 L590.1 379.3 L590.4 375.7 L590.7 374.1 L591.1 371.1 L591.4 368.9 L591.7 365.4 L592.1 363.9 L592.4 364.5 L592.7 363.2 L593.1 363.2 L593.4 363.1 L593.7 366.6 L594.1 363.7 L594.4 364.8 L594.7 364.5 L595.1 365.6 L595.4 367.0 L595.7 368.7 L596.1 366.4 L596.4 365.6 L596.7 368.4 L597.1 370.0 L597.4 369.4 L597.7 368.6 L598.1 368.5 L598.4 367.4 L598.7 364.7 L599.1 367.6 L599.4 368.5 L599.7 367.0 L600.1 367.3 L600.4 367.9 L600.7 365.5 L601.1 363.7 L601.4 364.1 L601.7 363.7 L602.1 365.1 L602.4 367.2 L602.7 367.4 L603.1 367.0 L603.4 366.1 L603.7 364.7 L604.1 363.0 L604.4 361.3 L604.7 357.9 L605.1 357.1 L605.4 357.9 L605.7 357.0 L606.1 357.2 L606.4 359.1 L606.7 356.2 L607.1 356.7 L607.4 354.9 L607.7 355.4 L608.1 356.7 L608.4 356.9 L608.7 357.6 L609.1 357.1 L609.4 357.1 L609.7 355.1 L610.1 355.2 L610.4 355.7 L610.7 355.8 L611.1 355.7 L611.4 353.7 L611.7 350.4 L612.1 350.8 L612.4 351.0 L612.7 352.6 L613.1 353.7 L613.4 357.6 L613.7 360.5 L614.1 360.3 L614.4 362.0 L614.7 362.3 L615.1 360.0 L615.4 357.8 L615.7 358.1 L616.1 359.8 L616.4 357.6 L616.7 360.0 L617.1 357.6 L617.4 359.3 L617.7 358.5 L618.1 359.6 L618.4 360.3 L618.7 359.8 L619.1 362.1 L619.4 365.0 L619.7 365.9 L620.1 366.8 L620.4 366.7 L620.7 369.6 L621.1 371.7 L621.4 372.4 L621.7 373.7 L622.1 374.3 L622.4 375.5 L622.7 375.2 L623.1 374.0 L623.4 372.0 L623.7 373.0 L624.1 373.4 L624.4 371.8 L624.7 372.0 L625.1 373.6 L625.4 375.0 L625.7 377.1 L626.1 377.2 L626.4 379.0 L626.7 380.4 L627.1 384.4 L628.0 400.0" stroke="#2ba0d9" stroke-width="2.9"/>
</g>
<path d="M630 147 L638.4 81" stroke="#172848" stroke-width="3" stroke-dasharray="6 3.5" fill="none"/>
<path d="M639 73.2 L643.4 81.2 L634.6 81.2 Z" fill="#172848"/>
<g font-size="12" fill="#333">
<path d="M246 85 H265.5" stroke="#172848" stroke-width="5" stroke-linecap="round"/>
<text x="271.5" y="89.6" stroke="#333" stroke-width="0.45" letter-spacing="0.35">Total Debt</text>
<path d="M348 85 H369.5" stroke="#1a6fae" stroke-width="2.3"/>
<text x="374.5" y="89.6" stroke="#333" stroke-width="0.45" letter-spacing="0.35">Short-Term</text>
<path d="M453 85 H474.5" stroke="#2ba0d9" stroke-width="2.2"/>
<text x="480" y="89.6" stroke="#333" stroke-width="0.45" letter-spacing="0.35">Long-Term</text>
</g>
<g font-size="10.2" fill="#444" letter-spacing="0.12">
<text x="22.5" y="469.8" textLength="386.5" lengthAdjust="spacing">Source: Bank for International Settlements, Total Credit to the Non-Financial Sector;</text>
<text x="22.5" y="481.7" textLength="234.5" lengthAdjust="spacing">Bloomberg Professional (FDTRMID and USGG10YR)</text>
</g>
</svg>
</body></html>
